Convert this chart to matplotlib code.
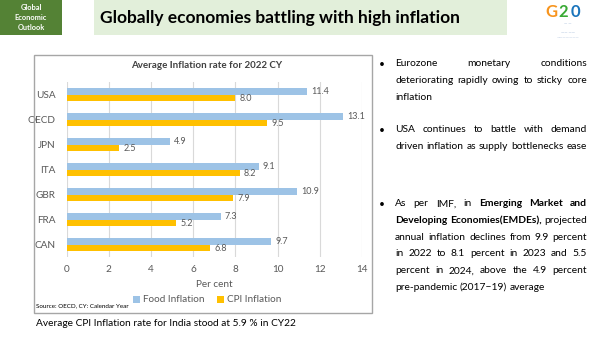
import matplotlib
matplotlib.use("Agg")
import matplotlib.pyplot as plt
from matplotlib.patches import Rectangle

W, H = 602, 338
plt.rcParams['font.family'] = ['Lato', 'DejaVu Sans']

categories = ["USA", "OECD", "JPN", "ITA", "GBR", "FRA", "CAN"]
food_inflation = [11.4, 13.1, 4.9, 9.1, 10.9, 7.3, 9.7]
cpi_inflation = [8.0, 9.5, 2.5, 8.2, 7.9, 5.2, 6.8]
xticks = [0, 2, 4, 6, 8, 10, 12, 14]

FOOD_C = "#9DC3E6"
CPI_C = "#FFC000"
GRAY = "#595959"

fig = plt.figure(figsize=(W / 100, H / 100), dpi=100)
fig.patch.set_facecolor("white")


def fx(x):
    return x / W


def fy(y):
    return 1 - y / H


def rect(x0, y0, x1, y1, **kw):
    fig.patches.append(Rectangle((fx(x0), fy(y1)), (x1 - x0) / W, (y1 - y0) / H,
                                 transform=fig.transFigure, **kw))


# header boxes
rect(0, 0, 62, 35, facecolor="#548235", edgecolor="none")
for t, yy in [("Global", 8), ("Economic", 18), ("Outlook", 28)]:
    fig.text(fx(31), fy(yy), t, color="white", fontsize=5.3, fontweight="bold",
             ha="center", va="center")
rect(94, 0, 507, 35, facecolor="#E2EFDA", edgecolor="none")
fig.text(fx(100), fy(18), "Globally economies battling with high inflation",
         fontsize=12.5, fontweight="bold", ha="left", va="center", color="black")

# G20 logo approximation
for ch, x, c in [("G", 551, "#F7941D"), ("2", 563, "#3AAA35"), ("0", 575, "#1B75BC")]:
    fig.text(fx(x), fy(12), ch, fontsize=12, fontweight="bold", color=c,
             ha="center", va="center")
fig.text(fx(568), fy(24), "\u2014 \u2014", fontsize=3, color="#7F9FC8", ha="center", va="center")
fig.text(fx(568), fy(33), "\u2014\u2014 \u2014\u2014", fontsize=3, color="#7F9FC8", ha="center", va="center")
fig.text(fx(568), fy(38), "\u2014\u2014\u2014\u2014\u2014\u2014\u2014", fontsize=3, color="#9FB4D4", ha="center", va="center")

# chart frame
rect(34, 55, 372, 313, facecolor="none", edgecolor="#A6A6A6", linewidth=1.0)

fig.text(fx(207), fy(66), "Average Inflation rate for 2022 CY", fontsize=7,
         fontweight="bold", color="#404040", ha="center", va="center")

ax = fig.add_axes([fx(66.7), fy(257), (362 - 66.7) / W, (257 - 82) / H])
n = len(categories)
idx = list(range(n))
h = 0.25
ax.barh([i - h / 2 for i in idx], food_inflation, height=h, color=FOOD_C, label="Food Inflation", zorder=3)
ax.barh([i + h / 2 for i in idx], cpi_inflation, height=h, color=CPI_C, label="CPI Inflation", zorder=3)
ax.set_ylim(n - 0.5, -0.5)
ax.set_xlim(0, 14)
ax.set_xticks(xticks)
ax.set_yticks(idx)
ax.set_yticklabels(categories)
ax.tick_params(axis="both", length=0, labelsize=7.2, labelcolor=GRAY)
ax.tick_params(axis="x", pad=6)
ax.tick_params(axis="y", pad=8)
ax.grid(axis="x", color="#D9D9D9", linewidth=0.8, zorder=0)
for s in ax.spines.values():
    s.set_visible(False)
ax.set_xlabel("Per cent", fontsize=7.2, color=GRAY, labelpad=4)
for i in idx:
    ax.text(food_inflation[i] + 0.2, i - h / 2, f"{food_inflation[i]:.1f}", fontsize=6.5,
            color=GRAY, va="center", ha="left")
    ax.text(cpi_inflation[i] + 0.2, i + h / 2 + 0.05, f"{cpi_inflation[i]:.1f}", fontsize=6.5,
            color=GRAY, va="center", ha="left")

fig.legend(loc="center", bbox_to_anchor=(fx(207), fy(300)), ncol=2, frameon=False,
           fontsize=7.2, labelcolor=GRAY, handlelength=0.7, handleheight=0.7,
           handletextpad=0.3, columnspacing=1.2)
fig.text(fx(36), fy(306), "Source: OECD, CY: Calendar Year", fontsize=4.5, color="black",
         ha="left", va="center")

fig.text(fx(36), fy(323), "Average CPI Inflation rate for India stood at 5.9 % in CY22",
         fontsize=7.3, color="black", ha="left", va="center")

# right-hand justified bullets
renderer = fig.canvas.get_renderer()
X0, X1 = 395, 587
FS = 7.4


def measure(s, **kw):
    t = fig.text(0, 0, s, fontsize=FS, **kw)
    w = t.get_window_extent(renderer).width
    t.remove()
    return w


SPACE = measure("a a") - 2 * measure("a")


def line(words, y, justify=True):
    arts = []
    for w, b in words:
        t = fig.text(fx(X0), fy(y), w, fontsize=FS, fontweight="bold" if b else "normal",
                     ha="left", va="center", color="black")
        arts.append(t)
    widths = [a.get_window_extent(renderer).width for a in arts]
    total = sum(widths)
    if justify and len(arts) > 1:
        gap = (X1 - X0 - total) / (len(arts) - 1)
    else:
        gap = SPACE
    x = X0
    for a, wd in zip(arts, widths):
        a.set_x(fx(x))
        x += wd + gap


def P(s, bold=False):
    return [(w, bold) for w in s.split()]


def bullet(y):
    fig.text(fx(379), fy(y), "\u2022", fontsize=FS, ha="left", va="center")


bullet(64)
line(P("Eurozone monetary conditions"), 64)
line(P("deteriorating rapidly owing to sticky core"), 80.7)
line(P("inflation"), 97, justify=False)

bullet(130)
line(P("USA continues to battle with demand"), 130)
line(P("driven inflation as supply bottlenecks ease"), 146.7)

bullet(204)
line(P("As per IMF, in") + P("Emerging Market and", True), 204)
line(P("Developing Economies(EMDEs),", True) + P("projected"), 220.7)
line(P("annual inflation declines from 9.9 percent"), 237)
line(P("in 2022 to 8.1 percent in 2023 and 5.5"), 254)
line(P("percent in 2024, above the 4.9 percent"), 270.7)
line(P("pre-pandemic (2017\u221219) average"), 287.3, justify=False)

fig.savefig("out.png", dpi=100, facecolor="white")
